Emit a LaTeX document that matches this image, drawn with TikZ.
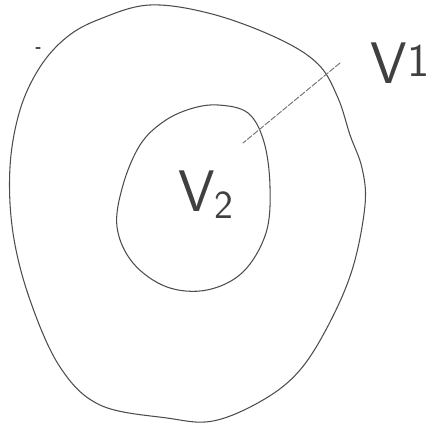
\documentclass[tikz,border=0pt]{standalone}
\usepackage{tikz}
\usetikzlibrary{calc,positioning}
\tikzset{
  pencil/.style = {draw=black!70, line width=0.9pt, line cap=round, line join=round},
  leader/.style = {draw=black!55, line width=0.8pt, dash pattern=on 5pt off 1.5pt, line cap=round},
  lbl/.style    = {font=\sffamily\fontsize{50}{50}\selectfont, text=black!75, inner sep=0pt},
}

\begin{document}
\begin{tikzpicture}[x=0.03cm,y=-0.03cm]
 \useasboundingbox (0,0) rectangle (430,432);
 % outer region V1
 \draw[pencil] plot[smooth cycle,tension=0.6] coordinates {
   (150,5) (212,14) (277,38) (318,64) (338,98) (350,135)
   (362,168) (365,205) (353,267) (330,322) (300,370) (263,400)
   (213,421) (167,418) (100,405) (60,367) (30,300) (13,233)
   (10,167) (20,110) (40,67) (67,37) (100,19)};
 % inner region V2
 \draw[pencil] plot[smooth cycle,tension=0.6] coordinates {
   (218,105) (248,113) (264,142) (270,187) (266,233) (243,272)
   (207,290) (167,287) (133,263) (117,227) (123,185) (140,145)
   (163,122) (190,109)};
 % stray mark
 \draw[pencil] (36,48) -- (40,48);
 % labels
 \node[lbl] (v1) at (400,63) {V\raisebox{0.12em}{\fontsize{40}{40}\selectfont 1}};
 \node[lbl] (v2) at (206,195) {V\raisebox{-0.12em}{\fontsize{34}{34}\selectfont 2}};
 \coordinate (v1end) at (340,63);
 \coordinate (v1tip) at (243,143);
 \draw[leader] (v1end) -- (v1tip);
\end{tikzpicture}
\end{document}
